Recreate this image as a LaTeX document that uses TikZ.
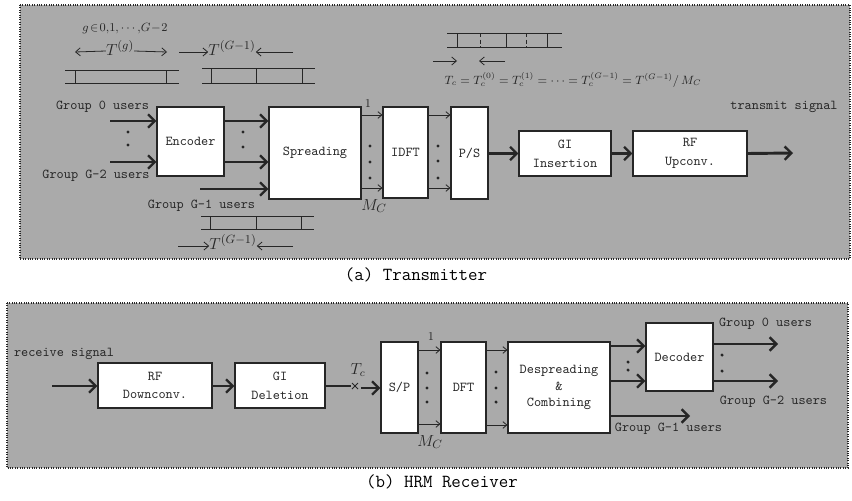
\documentclass[tikz,border=0pt]{standalone}
\usetikzlibrary{arrows.meta}
\definecolor{panel}{RGB}{170,170,170}
\definecolor{ink}{RGB}{38,38,38}
\tikzset{
  blk/.style={draw=ink, fill=white, line width=0.8pt, inner sep=0pt,
    font=\ttfamily\fontsize{10.2}{14}\selectfont, align=center, text=ink},
  thk/.style={draw=ink, line width=2.2pt,
    -{Straight Barb[length=5pt,width=10pt,line width=1.8pt]}},
  thn/.style={draw=ink, line width=0.6pt, -{Straight Barb[length=3pt,width=5pt]}},
  lbl/.style={font=\ttfamily\fontsize{10.2}{11}\selectfont, text=ink, inner sep=0pt},
  captxt/.style={font=\ttfamily\fontsize{13.8}{15}\selectfont, text=black, inner sep=0pt},
  pnl/.style={fill=panel, draw=ink, densely dotted, line width=0.8pt},
  smalldot/.style={circle, fill=ink, inner sep=0pt, minimum size=2.6pt},
  tline/.style={draw=ink, line width=0.7pt},
  tarr/.style={draw=ink, line width=0.6pt, -{Straight Barb[length=3.5pt,width=6pt]}},
  mth/.style={text=ink, inner sep=0pt},
}
\newcommand\blk[6]{\node[blk,minimum width={(#4-#2)*0.75pt},minimum height={(#5-#3)*0.75pt}] (#1) at ({(#2+#4)/2},{(#3+#5)/2}) {#6};}
\begin{document}
\begin{tikzpicture}[x=0.75pt,y=-0.75pt]
\useasboundingbox[fill=white] (0,0) rectangle (852,500);
% panels
\draw[pnl] (20,5) rectangle (850,259);
\draw[pnl] (7,303) rectangle (848,468);
\node[captxt] (capa) at (416,275) {(a) Transmitter};
\node[captxt] (capb) at (442,482) {(b) HRM Receiver};

% ===== Transmitter =====
\blk{enc}{157}{107}{224}{176}{Encoder}
\blk{spr}{269}{107}{361}{199}{Spreading}
\blk{idft}{383}{107}{428}{198}{IDFT}
\blk{ps}{451}{107}{488}{199}{P/S}
\blk{gi}{519}{131}{611}{176}{GI\\Insertion}
\blk{rf}{633}{131}{747}{176}{RF\\Upconv.}

\coordinate (in0) at (110,121);
\coordinate (in1) at (110,162);
\coordinate (in2) at (200,189);
\coordinate (tout) at (793,153);
\draw[thk] (in0) -- (enc.west |- in0);
\draw[thk] (in1) -- (enc.west |- in1);
\draw[thk] (enc.east |- in0) -- (spr.west |- in0);
\draw[thk] (enc.east |- in1) -- (spr.west |- in1);
\draw[thk] (in2) -- (spr.west |- in2);
\draw[thn] (spr.east |- 0,115) -- (idft.west |- 0,115);
\draw[thn] (spr.east |- 0,188) -- (idft.west |- 0,188);
\draw[thn] (idft.east |- 0,115) -- (ps.west |- 0,115);
\draw[thn] (idft.east |- 0,188) -- (ps.west |- 0,188);
\draw[thk] (ps.east |- gi.west) -- (gi.west);
\draw[thk] (gi.east) -- (rf.west);
\draw[thk] (rf.east) -- (tout);

\foreach \p in {(128,132),(128,145),(243,132),(243,147),(370,146),(370,162),(370,178),(438,146),(438,161),(438,178)}
  \node[smalldot] at \p {};

\node[lbl] (g0) at (102.5,107) {Group 0 users};
\node[lbl] (g2) at (96,176) {Group G-2 users};
\node[lbl] (g1) at (201.5,206) {Group G-1 users};
\node[lbl] (ts) at (784,107) {transmit signal};
\node[mth,font=\fontsize{9}{10}\selectfont] (one) at (368,104) {1};
\node[mth,font=\fontsize{12.5}{13}\selectfont] (mc) at (374,206) {$M_C$};

% timelines
\draw[tline] (65,70) -- (179,70) (65,83) -- (179,83) (75,70) -- (75,83) (166,70) -- (166,83);
\draw[tline] (202,68) -- (315,68) (202,83) -- (315,83) (211,68) -- (211,83) (256,68) -- (256,83) (302,68) -- (302,83);
\draw[tline] (201,216) -- (314,216) (201,229) -- (314,229) (210,216) -- (210,229) (256,216) -- (256,229) (301,216) -- (301,229);
\draw[tline] (447,33) -- (562,33) (447,47) -- (562,47) (457,33) -- (457,47) (506,33) -- (506,47) (547,33) -- (547,47);
\draw[tline,densely dashed] (480,33) -- (480,47) (526,33) -- (526,47);

\node[mth,font=\fontsize{9.5}{11}\selectfont] (gset) at (125,29) {$g\!\in\! 0{,}1{,}\cdots{,}G\!-\!2$};
\node[mth,font=\fontsize{13}{14}\selectfont] (tg) at (120,48) {$T^{(g)}$};
\draw[tarr] (tg.west) ++(0,3) -- (75,52);
\draw[tarr] (tg.east) ++(0,3) -- (167,52);
\node[mth,font=\fontsize{13}{14}\selectfont] (tG1) at (232,48) {$T^{(G-1)}$};
\draw[tarr] (179,52) -- (tG1.west |- 0,52);
\draw[tarr] (293,52) -- (tG1.east |- 0,52);
\node[mth,font=\fontsize{13}{14}\selectfont] (tG2) at (233,242) {$T^{(G-1)}$};
\draw[tarr] (178,246) -- (tG2.west |- 0,246);
\draw[tarr] (293,246) -- (tG2.east |- 0,246);
\draw[tarr] (433,61) -- (457,61);
\draw[tarr] (505,61) -- (479,61);
\node[mth,font=\fontsize{9}{10}\selectfont] (form) at (573,80) {$T_c=T_c^{(0)}=T_c^{(1)}=\cdots=T_c^{(G-1)}=T^{(G-1)}/\,M_C$};

% ===== Receiver =====
\blk{rfd}{98}{363}{212}{408}{RF\\Downconv.}
\blk{gid}{235}{363}{325}{408}{GI\\Deletion}
\blk{sp}{381}{342}{418}{433}{S/P}
\blk{dft}{441}{342}{486}{433}{DFT}
\blk{dsp}{508}{342}{610}{433}{Despreading\\[-1.5pt]\&\\[-1.5pt]Combining}
\blk{dec}{646}{323}{713}{391}{Decoder}

\coordinate (rin) at (52,386);
\coordinate (sw1) at (351,386);
\coordinate (sw2) at (361,388);
\coordinate (ro0) at (778,344);
\coordinate (ro1) at (778,381);
\coordinate (ro2) at (690,416);
\draw[thk] (rin) -- (rfd.west |- rin);
\draw[thk] (rfd.east |- rin) -- (gid.west |- rin);
\draw[ink,line width=2.2pt] (gid.east |- sw1) -- (sw1);
\draw[ink,line width=0.7pt] (352,383) -- (358,389) (352,389) -- (358,383);
\draw[thk] (sw2) -- (sp.west |- sw2);
\node[mth,font=\fontsize{12}{13}\selectfont] (tc) at (358,370) {$T_c$};
\draw[thn] (sp.east |- 0,350) -- (dft.west |- 0,350);
\draw[thn] (sp.east |- 0,424) -- (dft.west |- 0,424);
\draw[thn] (dft.east |- 0,350) -- (dsp.west |- 0,350);
\draw[thn] (dft.east |- 0,425) -- (dsp.west |- 0,425);
\draw[thk] (dsp.east |- 0,346) -- (dec.west |- 0,346);
\draw[thk] (dsp.east |- 0,381) -- (dec.west |- 0,381);
\draw[thk] (dec.east |- ro0) -- (ro0);
\draw[thk] (dec.east |- ro1) -- (ro1);
\draw[thk] (dsp.east |- ro2) -- (ro2);

\foreach \p in {(427,373),(427,388),(427,402),(496,372),(496,388),(496,402),(628,362),(628,370),(722,355),(722,371)}
  \node[smalldot] at \p {};

\node[lbl] (rs) at (64,354) {receive signal};
\node[lbl] (rg0) at (765.5,324) {Group 0 users};
\node[lbl] (rg2) at (773.5,402) {Group G-2 users};
\node[lbl] (rg1) at (668.5,429) {Group G-1 users};
\node[mth,font=\fontsize{9}{10}\selectfont] (rone) at (431,336) {1};
\node[mth,font=\fontsize{12.5}{13}\selectfont] (rmc) at (430,442) {$M_C$};
\end{tikzpicture}
\end{document}
